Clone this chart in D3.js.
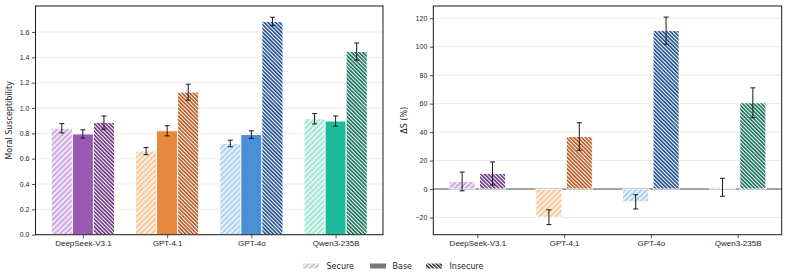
<!DOCTYPE html>
<html>
<head>
<meta charset="utf-8">
<script src="https://cdn.jsdelivr.net/npm/d3@7"></script>
<style>
  body { margin: 0; background: #fff; }
  svg { display: block; font-family: "DejaVu Sans", sans-serif; }
</style>
</head>
<body>
<div id="chart"></div>
<script>
/* Moral susceptibility (left) and relative change vs base (right) */

const models = ["DeepSeek-V3.1", "GPT-4.1", "GPT-4o", "Qwen3-235B"];
const conditions = ["Secure", "Base", "Insecure"];

// left panel: moral susceptibility
const secureMean   = [0.84, 0.66, 0.72, 0.915];
const secureErr    = [0.037, 0.028, 0.026, 0.041];
const baseMean     = [0.795, 0.82, 0.79, 0.897];
const baseErr      = [0.033, 0.04, 0.03, 0.04];
const insecureMean = [0.885, 1.125, 1.683, 1.445];
const insecureErr  = [0.052, 0.063, 0.033, 0.068];

// right panel: ΔS (%) relative to base
const deltaSecure      = [5.3, -19.8, -9.0, 1.2];
const deltaSecureErr   = [6.6, 5.2, 5.0, 6.3];
const deltaInsecure    = [10.9, 36.9, 111.3, 60.6];
const deltaInsecureErr = [8.1, 9.7, 9.5, 10.5];

const leftTicks = [0, 0.2, 0.4, 0.6, 0.8, 1.0, 1.2, 1.4, 1.6];
const rightTicks = [-20, 0, 20, 40, 60, 80, 100, 120];

// colours per model: [secure, base, insecure]
const palette = [
    ["#cfaee2", "#9b59b6", "#6c3483"],
    ["#f9c9a0", "#e8883c", "#b7561f"],
    ["#b4d3f2", "#4a90d9", "#1f4e8c"],
    ["#a6e5d8", "#1abc9c", "#13705a"]
];
const legendGray = ["#cccccc", "#777777", "#333333"];

const width = 788, height = 276;

const svg = d3.select("#chart")
    .append("svg")
    .attr("width", width)
    .attr("height", height)
    .attr("viewBox", [0, 0, width, height]);

const defs = svg.append("defs");

// hatch patterns: "/" for secure, "\" (denser) for insecure
function hatch(id, color, kind) {
    const p = kind === "secure" ? 3.8 : 2.7;
    const lw = kind === "secure" ? 1.25 : 1.05;
    const pat = defs.append("pattern")
        .attr("id", id)
        .attr("patternUnits", "userSpaceOnUse")
        .attr("width", p)
        .attr("height", p)
        .attr("patternTransform", `rotate(${kind === "secure" ? -45 : 45})`);
    pat.append("rect").attr("width", p).attr("height", p).attr("fill", color);
    pat.append("rect").attr("width", p).attr("height", lw).attr("fill", "#fff");
    return `url(#${id})`;
}

function fillFor(m, c) {
    const col = palette[m][c];
    if (c === 1) return col;
    return hatch(`h${m}${c}`, col, c === 0 ? "secure" : "insecure");
}

const plotTop = 6, plotBottom = 234.7;

function panel(cfg) {
    const x = d3.scaleLinear().domain(cfg.xDomain).range(cfg.xRange);
    const y = d3.scaleLinear().domain(cfg.yDomain).range([plotBottom, plotTop]);
    const g = svg.append("g");

    // grid
    g.append("g")
        .selectAll("line")
        .data(cfg.ticks)
        .join("line")
        .attr("x1", cfg.xRange[0]).attr("x2", cfg.xRange[1])
        .attr("y1", d => y(d)).attr("y2", d => y(d))
        .attr("stroke", "#e6e6e6")
        .attr("stroke-width", 0.8);

    if (cfg.zeroLine) {
        g.append("line")
            .attr("x1", cfg.xRange[0]).attr("x2", cfg.xRange[1])
            .attr("y1", y(0)).attr("y2", y(0))
            .attr("stroke", "#555")
            .attr("stroke-width", 1);
    }

    // axes
    const yAxis = g.append("g")
        .attr("transform", `translate(${cfg.xRange[0]},0)`)
        .call(d3.axisLeft(y).tickValues(cfg.ticks).tickFormat(cfg.format).tickSize(3.5).tickPadding(2.5));
    const xAxis = g.append("g")
        .attr("transform", `translate(0,${plotBottom})`)
        .call(d3.axisBottom(x).tickValues(d3.range(models.length)).tickFormat(i => models[i]).tickSize(3.5).tickPadding(2.5));
    for (const a of [xAxis, yAxis]) {
        a.select(".domain").remove();
        a.selectAll("text").attr("fill", "#262626");
        a.selectAll(".tick line").attr("stroke", "#262626").attr("stroke-width", 0.8);
    }
    yAxis.selectAll("text").style("font-size", "7px");
    xAxis.selectAll("text").style("font-size", "8px");

    // bars
    const rows = [];
    cfg.series.forEach(s => {
        models.forEach((m, i) => {
            rows.push({ i, c: s.c, off: s.off, v: s.mean[i], e: s.err[i] });
        });
    });

    const bar = g.selectAll(".bar")
        .data(rows)
        .join("g")
        .attr("class", "bar");

    bar.append("rect")
        .attr("x", d => x(d.i + d.off - cfg.bw / 2))
        .attr("width", d => x(d.i + cfg.bw) - x(d.i))
        .attr("y", d => y(Math.max(0, d.v)))
        .attr("height", d => Math.abs(y(0) - y(d.v)))
        .attr("fill", d => fillFor(d.i, d.c))
        .attr("stroke", "#fff")
        .attr("stroke-width", 0.9);

    // error bars
    const eb = bar.append("g").attr("stroke", "#1a1a1a").attr("stroke-width", 1);
    eb.append("line")
        .attr("x1", d => x(d.i + d.off)).attr("x2", d => x(d.i + d.off))
        .attr("y1", d => y(d.v - d.e)).attr("y2", d => y(d.v + d.e));
    eb.append("line")
        .attr("x1", d => x(d.i + d.off) - 2.5).attr("x2", d => x(d.i + d.off) + 2.5)
        .attr("y1", d => y(d.v + d.e)).attr("y2", d => y(d.v + d.e));
    eb.append("line")
        .attr("x1", d => x(d.i + d.off) - 2.5).attr("x2", d => x(d.i + d.off) + 2.5)
        .attr("y1", d => y(d.v - d.e)).attr("y2", d => y(d.v - d.e));

    // frame
    g.append("rect")
        .attr("x", cfg.xRange[0]).attr("y", plotTop)
        .attr("width", cfg.xRange[1] - cfg.xRange[0])
        .attr("height", plotBottom - plotTop)
        .attr("fill", "none")
        .attr("stroke", "#1a1a1a")
        .attr("stroke-width", 1);

    // y label
    g.append("text")
        .attr("transform", `translate(${cfg.labelX},${(plotTop + plotBottom) / 2}) rotate(-90)`)
        .attr("text-anchor", "middle")
        .attr("fill", "#262626")
        .style("font-size", "8px")
        .text(cfg.label);
}

panel({
    xDomain: [-0.5625, 3.5625],
    xRange: [35.5, 383],
    yDomain: [0, 1.805],
    ticks: leftTicks,
    format: d3.format(".1f"),
    bw: 0.25,
    series: [
        { c: 0, off: -0.25, mean: secureMean, err: secureErr },
        { c: 1, off: 0, mean: baseMean, err: baseErr },
        { c: 2, off: 0.25, mean: insecureMean, err: insecureErr }
    ],
    label: "Moral Susceptibility",
    labelX: 12
});

panel({
    xDomain: [-0.5075, 3.5075],
    xRange: [433.3, 781.7],
    yDomain: [-32.1, 128.6],
    ticks: rightTicks,
    format: d3.format("d"),
    bw: 0.3,
    zeroLine: true,
    series: [
        { c: 0, off: -0.175, mean: deltaSecure, err: deltaSecureErr },
        { c: 2, off: 0.175, mean: deltaInsecure, err: deltaInsecureErr }
    ],
    label: "ΔS (%)",
    labelX: 407
});

// legend
const legendX = [303, 370, 426];
const legend = svg.append("g")
    .selectAll("g")
    .data(conditions)
    .join("g")
    .attr("transform", (d, i) => `translate(${legendX[i]},266)`);

legend.append("rect")
    .attr("x", 0).attr("y", -2.5)
    .attr("width", 16).attr("height", 5)
    .attr("fill", (d, i) => i === 1 ? legendGray[1] : hatch(`lg${i}`, legendGray[i], i === 0 ? "secure" : "insecure"));

legend.append("text")
    .attr("x", (d, i) => i === 1 ? 22.5 : 23.5)
    .attr("y", 3)
    .attr("fill", "#262626")
    .style("font-size", "8px")
    .text(d => d);
</script>
</body>
</html>
